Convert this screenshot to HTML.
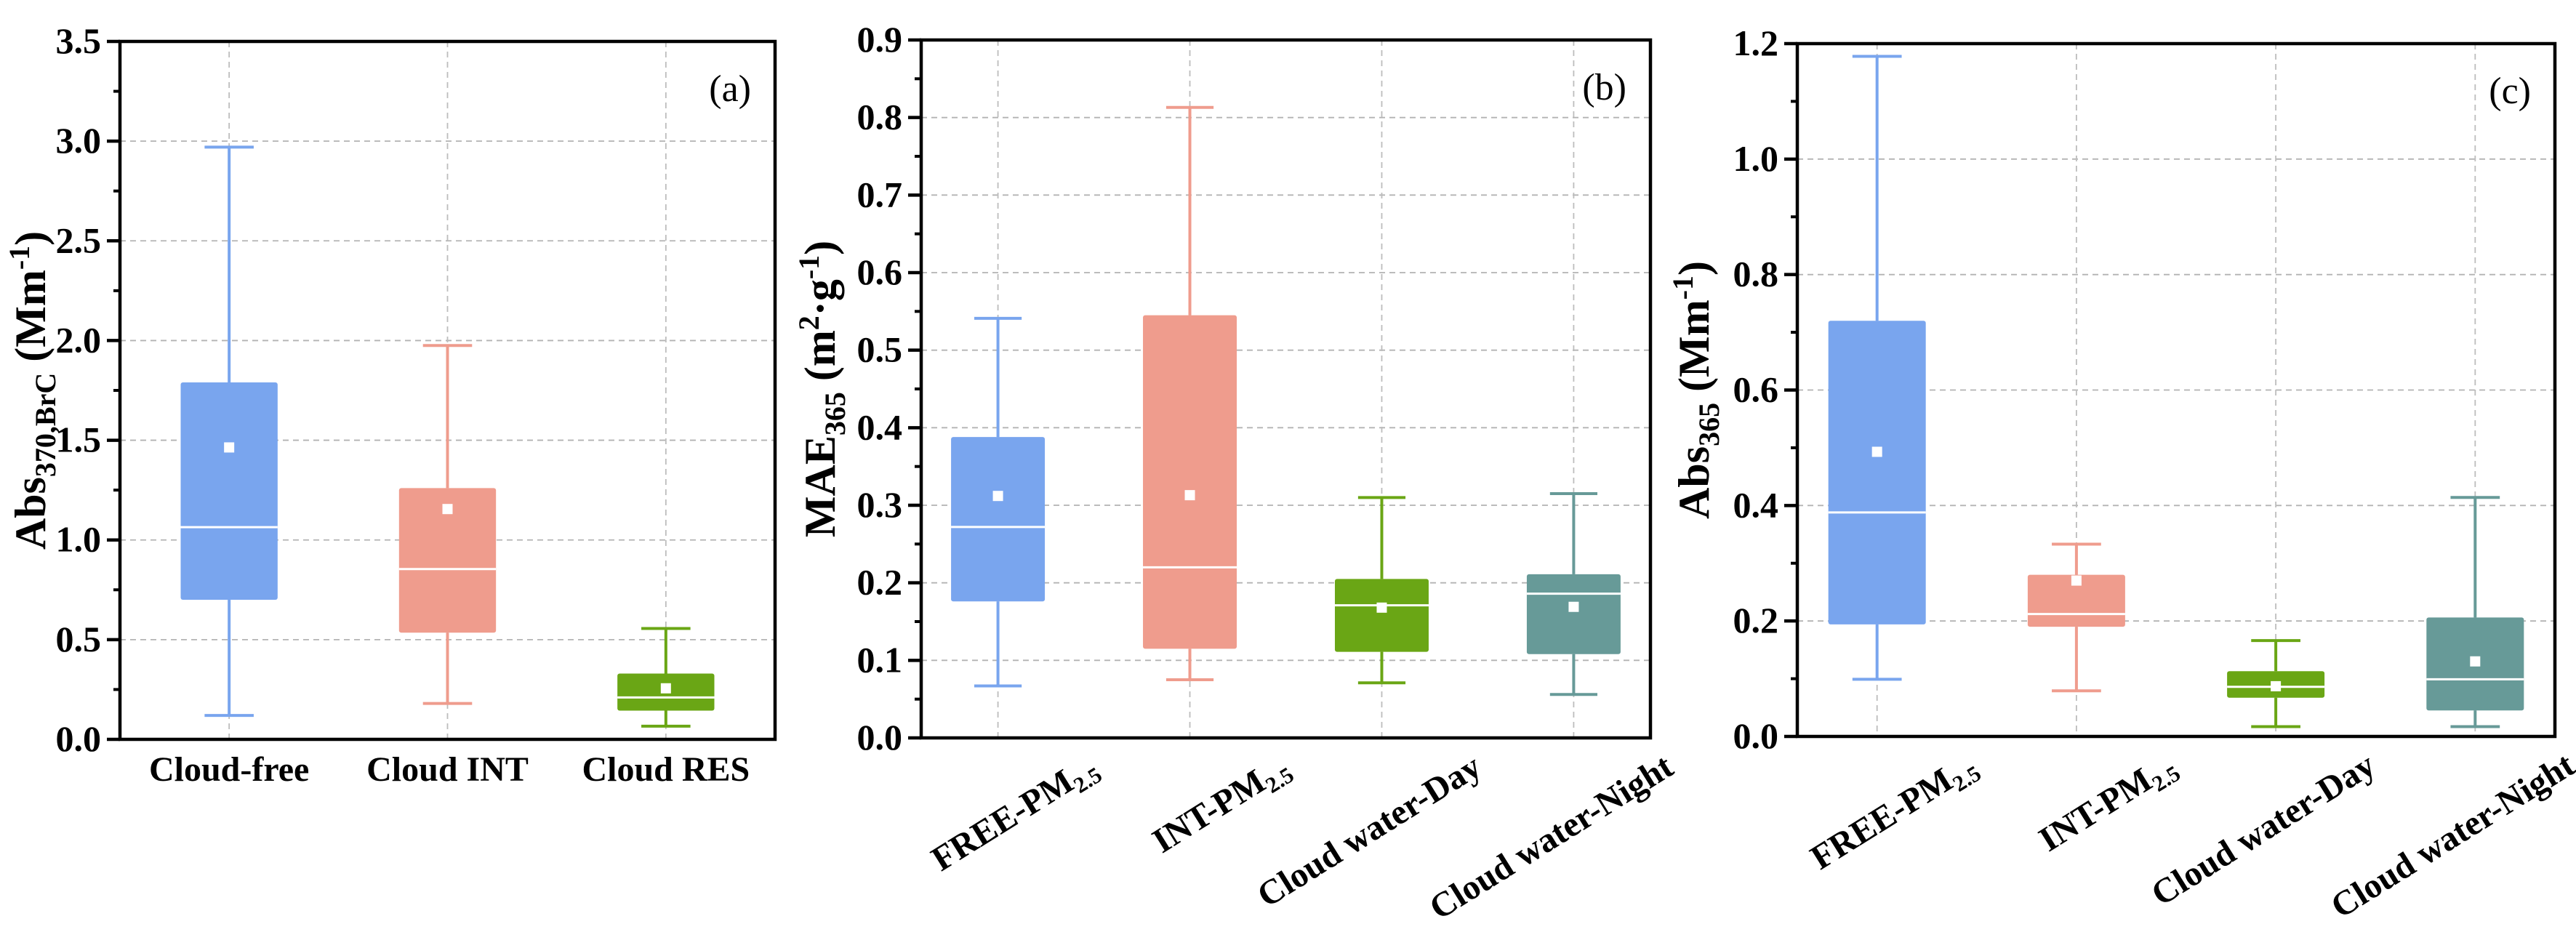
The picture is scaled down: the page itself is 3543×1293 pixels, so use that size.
<!DOCTYPE html>
<html><head><meta charset="utf-8"><style>
html,body{margin:0;padding:0;background:#fff}
svg{display:block}
svg text{font-family:"Liberation Serif","Times New Roman",serif}
</style></head><body>
<svg id="fig" width="3543" height="1293" viewBox="0 0 3543 1293" xmlns="http://www.w3.org/2000/svg" font-family="Liberation Serif, Times New Roman, serif"></svg>
<script>
// ---- Panel (a) data ----
const aCategories = ["Cloud-free","Cloud INT","Cloud RES"];
const aWhiskerHigh = [2.97, 1.975, 0.556];
const aBoxHigh = [1.79, 1.26, 0.33];
const aMedian = [1.064, 0.854, 0.21];
const aMean = [1.464, 1.155, 0.256];
const aBoxLow = [0.70, 0.535, 0.144];
const aWhiskerLow = [0.12, 0.18, 0.066];
const aTicks = ["0.0","0.5","1.0","1.5","2.0","2.5","3.0","3.5"];
// ---- Panel (b) data ----
const bCategories = ["FREE-PM","INT-PM","Cloud water-Day","Cloud water-Night"];
const bWhiskerHigh = [0.541, 0.813, 0.310, 0.315];
const bBoxHigh = [0.388, 0.545, 0.205, 0.211];
const bMedian = [0.272, 0.22, 0.171, 0.186];
const bMean = [0.312, 0.313, 0.168, 0.169];
const bBoxLow = [0.176, 0.115, 0.111, 0.108];
const bWhiskerLow = [0.067, 0.075, 0.071, 0.056];
const bTicks = ["0.0","0.1","0.2","0.3","0.4","0.5","0.6","0.7","0.8","0.9"];
// ---- Panel (c) data ----
const cCategories = ["FREE-PM","INT-PM","Cloud water-Day","Cloud water-Night"];
const cWhiskerHigh = [1.178, 0.333, 0.166, 0.414];
const cBoxHigh = [0.72, 0.28, 0.113, 0.206];
const cMedian = [0.388, 0.212, 0.086, 0.099];
const cMean = [0.493, 0.27, 0.087, 0.13];
const cBoxLow = [0.194, 0.19, 0.067, 0.045];
const cWhiskerLow = [0.099, 0.079, 0.017, 0.017];
const cTicks = ["0.0","0.2","0.4","0.6","0.8","1.0","1.2"];

const colors4 = ["#79a5ee","#ef9c8d","#6aa615","#679a98"];
const NS = "http://www.w3.org/2000/svg";
const svg = document.getElementById("fig");
const FF = "Liberation Serif, Times New Roman, serif";
function mk(tag, attrs, parent){
  const e = document.createElementNS(NS, tag);
  for (const k in attrs) e.setAttribute(k, attrs[k]);
  if (tag === "text") e.setAttribute("font-family", FF);
  (parent||svg).appendChild(e); return e;
}

function panel(p){
  const g = mk("g", {});
  
  
  const W = p.R - p.L, H = p.B - p.T;
  const ymax = parseFloat(p.ticks[p.ticks.length-1]);
  const Y = v => p.B - v / ymax * H;
  const n = p.cats.length;
  const X = i => p.L + (i + p.off) / (n - 1 + 2*p.off) * W;
  p.ticks.forEach((t,i)=>{
    if (i===0 || i===p.ticks.length-1) return;
    const l = mk("line",{x1:p.L,x2:p.R,y1:Y(parseFloat(t)),y2:Y(parseFloat(t)),stroke:"#b3b3b3","stroke-width":1.8,"stroke-dasharray":"8,6"},g);
    
    
  });
  p.cats.forEach((c,i)=>{
    const l = mk("line",{x1:X(i),x2:X(i),y1:p.T,y2:p.B,stroke:"#bdbdbd","stroke-width":1.8,"stroke-dasharray":"8,6"},g);
    
    
  });
  const bw = p.boxW * W, cw = p.capW * W;
  p.cats.forEach((c,i)=>{
    const col = colors4[i];
    const bg = mk("g",{},g);
    
    
    const x = X(i);
    mk("line",{x1:x,x2:x,y1:Y(p.wh[i]),y2:Y(p.bh[i]),stroke:col,"stroke-width":4},bg);
    mk("line",{x1:x,x2:x,y1:Y(p.bl[i]),y2:Y(p.wl[i]),stroke:col,"stroke-width":4},bg);
    mk("line",{x1:x-cw/2,x2:x+cw/2,y1:Y(p.wh[i]),y2:Y(p.wh[i]),stroke:col,"stroke-width":4},bg);
    mk("line",{x1:x-cw/2,x2:x+cw/2,y1:Y(p.wl[i]),y2:Y(p.wl[i]),stroke:col,"stroke-width":4},bg);
    mk("rect",{x:x-bw/2,y:Y(p.bh[i]),width:bw,height:Y(p.bl[i])-Y(p.bh[i]),fill:col,rx:3},bg);
    mk("line",{x1:x-bw/2,x2:x+bw/2,y1:Y(p.md[i]),y2:Y(p.md[i]),stroke:"#fff","stroke-width":3},bg);
    mk("rect",{x:x-7,y:Y(p.mn[i])-7,width:14,height:14,fill:"#fff"},bg);
  });
  const fr = mk("rect",{x:p.L,y:p.T,width:W,height:H,fill:"none",stroke:"#000","stroke-width":4.5},g);
  
  
  const nt = p.ticks.length;
  for (let k=0;k<nt;k++){
    const v = parseFloat(p.ticks[k]), y = Y(v);
    mk("line",{x1:p.L-18,x2:p.L,y1:y,y2:y,stroke:"#000","stroke-width":4.5},g);
    const tl = mk("text",{x:p.L-26,y:y+16,"text-anchor":"end","font-size":50,"font-weight":"bold"},g);
    tl.textContent = p.ticks[k];
    
    
    if (k<nt-1){
      const step = parseFloat(p.ticks[1]) - parseFloat(p.ticks[0]);
      const ym = Y(v + step/2);
      mk("line",{x1:p.L-9,x2:p.L,y1:ym,y2:ym,stroke:"#000","stroke-width":4},g);
    }
  }
  p.cats.forEach((c,i)=>{
    let t;
    if (p.rot){
      const ax = X(i)+140, ay = p.B + 48;
      t = mk("text",{x:ax,y:ay,"text-anchor":"end","font-size":48,"font-weight":"bold",transform:`rotate(-32 ${ax} ${ay})`},g);
      t.textContent = c;
      if (c.endsWith("PM")){
        const s = mk("tspan",{"font-size":31,dy:10},t); s.textContent = "2.5";
      }
    } else {
      t = mk("text",{x:X(i),y:p.B+57,"text-anchor":"middle","font-size":48,"font-weight":"bold"},g);
      t.textContent = c;
    }
    
    
  });
  const cy = (p.T+p.B)/2;
  const yt = mk("text",{x:p.titleX,y:cy,"text-anchor":"middle","font-size":60,"font-weight":"bold",transform:`rotate(-90 ${p.titleX} ${cy})`},g);
  
  
  p.title.forEach(seg=>{
    const s = mk("tspan",seg.a||{},yt); s.textContent = seg.t;
  });
  const pl = mk("text",{x:p.R-33,y:p.T+82,"text-anchor":"end","font-size":52},g);
  pl.textContent = p.letter;
  
  
}

panel({id:"a",L:165,R:1066,T:57,B:1017,off:0.5,boxW:0.148,capW:0.075,rot:false,
  cats:aCategories,wh:aWhiskerHigh,bh:aBoxHigh,md:aMedian,mn:aMean,bl:aBoxLow,wl:aWhiskerLow,ticks:aTicks,
  titleX:62,letter:"(a)",
  title:[{t:"Abs"},{t:"370,BrC",a:{"font-size":40,dy:14}},{t:" (Mm",a:{dy:-14}},{t:"-1",a:{"font-size":40,dy:-22}},{t:")",a:{dy:22}}]});
panel({id:"b",L:1267,R:2270,T:55,B:1015,off:0.4,boxW:0.1286,capW:0.065,rot:true,
  cats:bCategories,wh:bWhiskerHigh,bh:bBoxHigh,md:bMedian,mn:bMean,bl:bBoxLow,wl:bWhiskerLow,ticks:bTicks,
  titleX:1148,letter:"(b)",
  title:[{t:"MAE"},{t:"365",a:{"font-size":40,dy:14}},{t:" (m",a:{dy:-14}},{t:"2",a:{"font-size":40,dy:-22}},{t:"·g",a:{dy:22}},{t:"-1",a:{"font-size":40,dy:-22}},{t:")",a:{dy:22}}]});
panel({id:"c",L:2472,R:3514,T:60,B:1013,off:0.4,boxW:0.1286,capW:0.065,rot:true,
  cats:cCategories,wh:cWhiskerHigh,bh:cBoxHigh,md:cMedian,mn:cMean,bl:cBoxLow,wl:cWhiskerLow,ticks:cTicks,
  titleX:2350,letter:"(c)",
  title:[{t:"Abs"},{t:"365",a:{"font-size":40,dy:14}},{t:" (Mm",a:{dy:-14}},{t:"-1",a:{"font-size":40,dy:-22}},{t:")",a:{dy:22}}]});
</script>
</body></html>
